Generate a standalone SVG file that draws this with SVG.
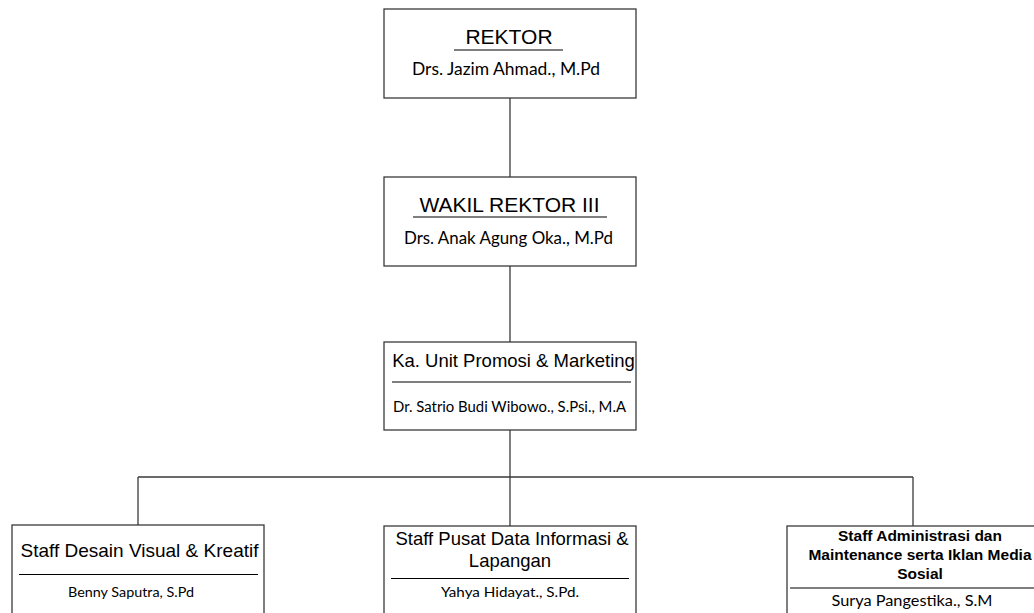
<svg xmlns="http://www.w3.org/2000/svg" width="1034" height="613" viewBox="0 0 1034 613">
<style>
.box{fill:#fff;stroke:#3a3a3a;stroke-width:1.3}
.rule{stroke:#000;stroke-width:1.2}
.con{fill:none;stroke:#3a3a3a;stroke-width:1.3}
.t{font-family:"Liberation Sans",Arial,sans-serif;fill:#000;text-anchor:middle}
.b{font-family:"Liberation Sans",Arial,sans-serif;font-weight:bold;fill:#000;text-anchor:middle}
.n{font-family:Lato,"Open Sans",sans-serif;fill:#000;text-anchor:middle}
</style>
<rect width="1034" height="613" fill="#fff"/>
<g id="connectors">
<path class="con" d="M510 98V177M510 266V342M510 430V477M138 477H913M138 477V525M510 477V526M913 477V526"/>
</g>
<g id="rektor">
<rect class="box" x="384" y="9" width="252" height="89"/>
<text class="t" x="509" y="44" font-size="21">REKTOR</text>
<line class="rule" x1="454" y1="50" x2="563" y2="50"/>
<text class="n" x="506" y="75" font-size="16.8" textLength="188" lengthAdjust="spacingAndGlyphs">Drs. Jazim Ahmad., M.Pd</text>
</g>
<g id="wakil-rektor-iii">
<rect class="box" x="384" y="177" width="252" height="89"/>
<text class="t" x="509.5" y="212" font-size="21">WAKIL REKTOR III</text>
<line class="rule" x1="413" y1="217" x2="607" y2="217"/>
<text class="n" x="508.5" y="244" font-size="16.8" textLength="209" lengthAdjust="spacingAndGlyphs">Drs. Anak Agung Oka., M.Pd</text>
</g>
<g id="ka-unit">
<rect class="box" x="384" y="342" width="252" height="88"/>
<text class="t" x="513.5" y="367" font-size="18.5">Ka. Unit Promosi &amp; Marketing</text>
<line class="rule" x1="392" y1="382" x2="631" y2="382"/>
<text class="n" x="509.5" y="412" font-size="14.5" textLength="233" lengthAdjust="spacingAndGlyphs">Dr. Satrio Budi Wibowo., S.Psi., M.A</text>
</g>
<g id="staff-desain">
<rect class="box" x="12" y="525" width="252" height="100"/>
<text class="t" x="139.5" y="557" font-size="19">Staff Desain Visual &amp; Kreatif</text>
<line class="rule" x1="19" y1="574.5" x2="258" y2="574.5"/>
<text class="n" x="131" y="597" font-size="14" textLength="126" lengthAdjust="spacingAndGlyphs">Benny Saputra, S.Pd</text>
</g>
<g id="staff-pusat-data">
<rect class="box" x="384" y="526" width="252" height="100"/>
<text class="t" x="512" y="545" font-size="18.5">Staff Pusat Data Informasi &amp;</text>
<text class="t" x="510" y="567" font-size="18.5">Lapangan</text>
<line class="rule" x1="391" y1="578.5" x2="629" y2="578.5"/>
<text class="n" x="510" y="597" font-size="14" textLength="138" lengthAdjust="spacingAndGlyphs">Yahya Hidayat., S.Pd.</text>
</g>
<g id="staff-administrasi">
<rect class="box" x="787" y="526" width="263" height="100"/>
<text class="b" x="920" y="541" font-size="15.5">Staff Administrasi dan</text>
<text class="b" x="920" y="560" font-size="15.5">Maintenance serta Iklan Media</text>
<text class="b" x="920" y="579" font-size="15.5">Sosial</text>
<line class="rule" x1="790" y1="588" x2="1040" y2="588"/>
<text class="n" x="912" y="606" font-size="14.5" textLength="161" lengthAdjust="spacingAndGlyphs">Surya Pangestika., S.M</text>
</g>
</svg>
